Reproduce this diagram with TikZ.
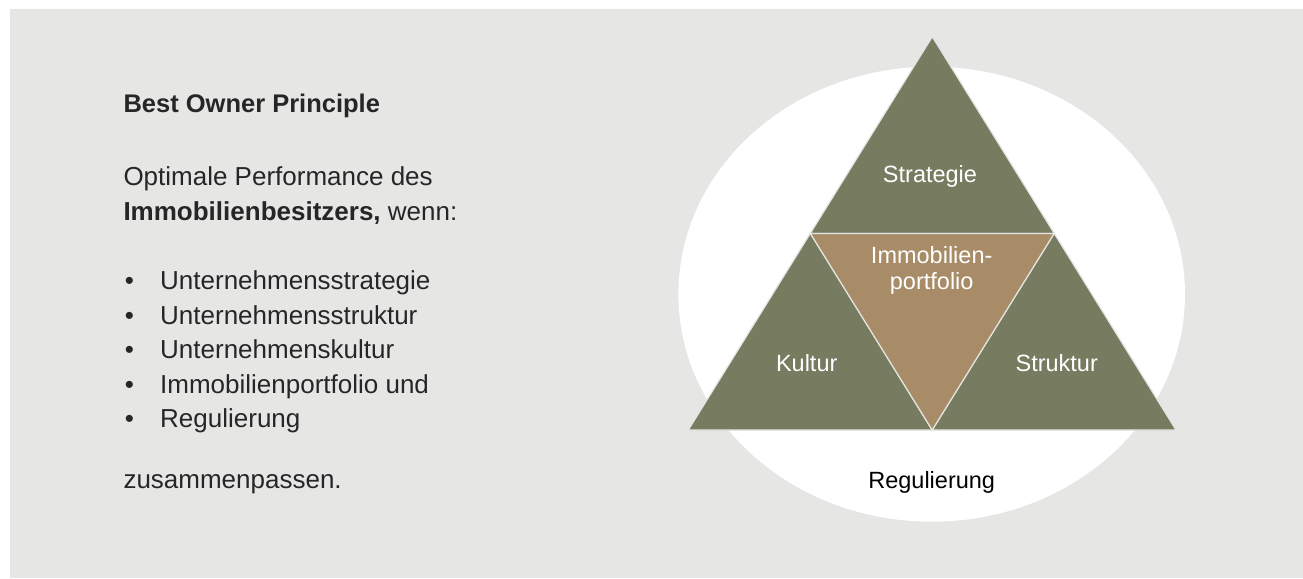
\documentclass[tikz,border=0pt]{standalone}
\usepackage{fontspec}
\setmainfont{Liberation Sans}
\definecolor{panelgray}{HTML}{E6E6E5}
\definecolor{olivefill}{HTML}{777C61}
\definecolor{tanfill}{HTML}{A88C67}
\definecolor{seam}{HTML}{E4E4E2}
\definecolor{ink}{HTML}{262626}
\begin{document}
\begin{tikzpicture}[x=1pt,y=-1pt,
  outer/.style={fill=olivefill, draw=seam, line width=1.2pt, line join=miter},
  inner/.style={fill=tanfill, draw=seam, line width=1.2pt, line join=miter},
  lbl/.style={anchor=base, inner sep=0pt, text=white, align=center,
    font=\fontsize{23.5}{25.7}\selectfont},
  body/.style={anchor=base west, inner sep=0pt, text=ink,
    font=\fontsize{26}{34.7}\selectfont},
  dot/.style={anchor=base, inner sep=0pt, text=ink,
    font=\fontsize{26}{34.7}\selectfont}]
\useasboundingbox (0,0) rectangle (1303,578);
% page and grey panel
\fill[white] (0,0) rectangle (1303,578);
\fill[panelgray] (10,9) rectangle (1303,578);

% white ellipse standing for regulation
\fill[white] (931.7,294.2) ellipse [x radius=253.3, y radius=227.5];

% corner points of the big triangle and its edge midpoints
\coordinate (A) at (932.3,36.7);
\coordinate (L) at (688.3,430);
\coordinate (R) at (1176,430);
\coordinate (ML) at (810.3,233.4);
\coordinate (MR) at (1054.2,233.4);
\coordinate (MB) at (932.2,430);

% four sub-triangles
\draw[outer] (A) -- (ML) -- (MR) -- cycle;
\draw[outer] (ML) -- (L) -- (MB) -- cycle;
\draw[outer] (MR) -- (MB) -- (R) -- cycle;
\draw[inner] (ML) -- (MR) -- (MB) -- cycle;

% labels inside the diagram
\node[lbl] (strategie) at (930,182.7) {Strategie};
\node[lbl] (kultur) at (806.7,371.7) {Kultur};
\node[lbl] (struktur) at (1056.7,371.7) {Struktur};
\node[lbl] (portfolio) at (931.7,289.3) {Immobilien-\\portfolio};
\node[lbl, text=black] (regulierung) at (931.7,488.3) {Regulierung};

% explanatory text on the left
\node[body, font=\fontsize{25.5}{30}\selectfont\bfseries] (title) at (123.3,112.7) {Best Owner Principle};
\node[body] (intro1) at (123.3,185) {Optimale Performance des};
\node[body] (intro2) at (123.3,220) {\textbf{Immobilienbesitzers,} wenn:};

\foreach \y/\txt [count=\i] in {289.3/Unternehmensstrategie,
                               324/Unternehmensstruktur,
                               358.3/Unternehmenskultur,
                               393.3/Immobilienportfolio und,
                               427.7/Regulierung} {
  \node[dot] (b\i) at (129.3,\y) {\textbullet};
  \node[body] (item\i) at (160,\y) {\txt};
}

\node[body] (outro) at (123.3,488.3) {zusammenpassen.};
\end{tikzpicture}
\end{document}
